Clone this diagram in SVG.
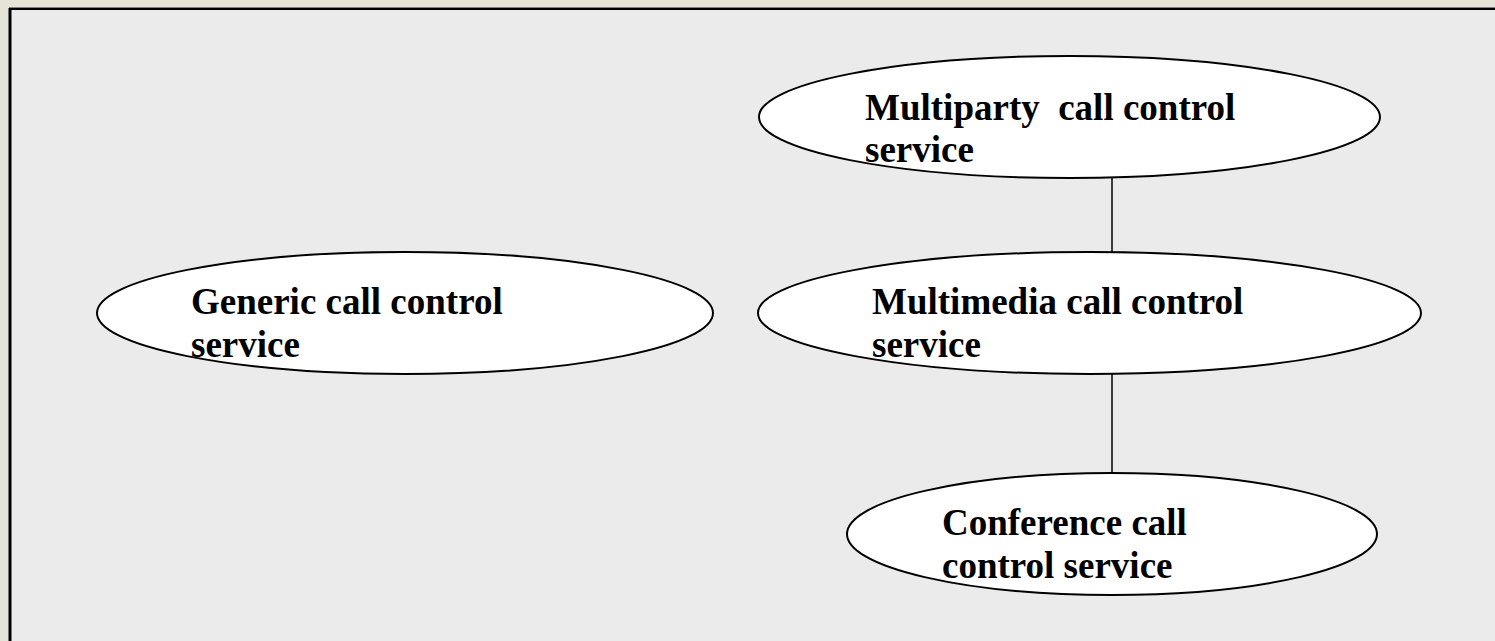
<svg xmlns="http://www.w3.org/2000/svg" width="1495" height="641" viewBox="0 0 1495 641">
<style>
.node ellipse{fill:#ffffff;stroke:#000000;stroke-width:2}
.node text{font-family:"Liberation Serif","Times New Roman",serif;font-weight:bold;font-size:37px;fill:#000000}
.conn line{stroke:#000000;stroke-width:1.5}
</style>
<rect x="0" y="0" width="1495" height="641" fill="#e6e3d8"/>
<rect x="9" y="7" width="1486" height="634" fill="#ebebeb"/>
<line x1="9" y1="7.5" x2="1495" y2="7.5" stroke="#808080" stroke-width="1"/>
<line x1="9" y1="9" x2="1495" y2="9" stroke="#000000" stroke-width="2"/>
<line x1="10" y1="8" x2="10" y2="641" stroke="#000000" stroke-width="3"/>
<g class="conn">
<line x1="1112" y1="178" x2="1112" y2="252"/>
<line x1="1112" y1="374" x2="1112" y2="473"/>
</g>
<g id="multiparty" class="node">
<ellipse cx="1069.5" cy="117" rx="310.5" ry="61"/>
<text x="865" y="120" xml:space="preserve">Multiparty  call control</text>
<text x="865" y="162">service</text>
</g>
<g id="multimedia" class="node">
<ellipse cx="1089.5" cy="313" rx="331.5" ry="61"/>
<text x="872" y="314">Multimedia call control</text>
<text x="872" y="357">service</text>
</g>
<g id="generic" class="node">
<ellipse cx="405" cy="313" rx="308" ry="61"/>
<text x="191" y="314">Generic call control</text>
<text x="191" y="357">service</text>
</g>
<g id="conference" class="node">
<ellipse cx="1112" cy="534" rx="265" ry="61"/>
<text x="942" y="535">Conference call</text>
<text x="942" y="578">control service</text>
</g>
</svg>
